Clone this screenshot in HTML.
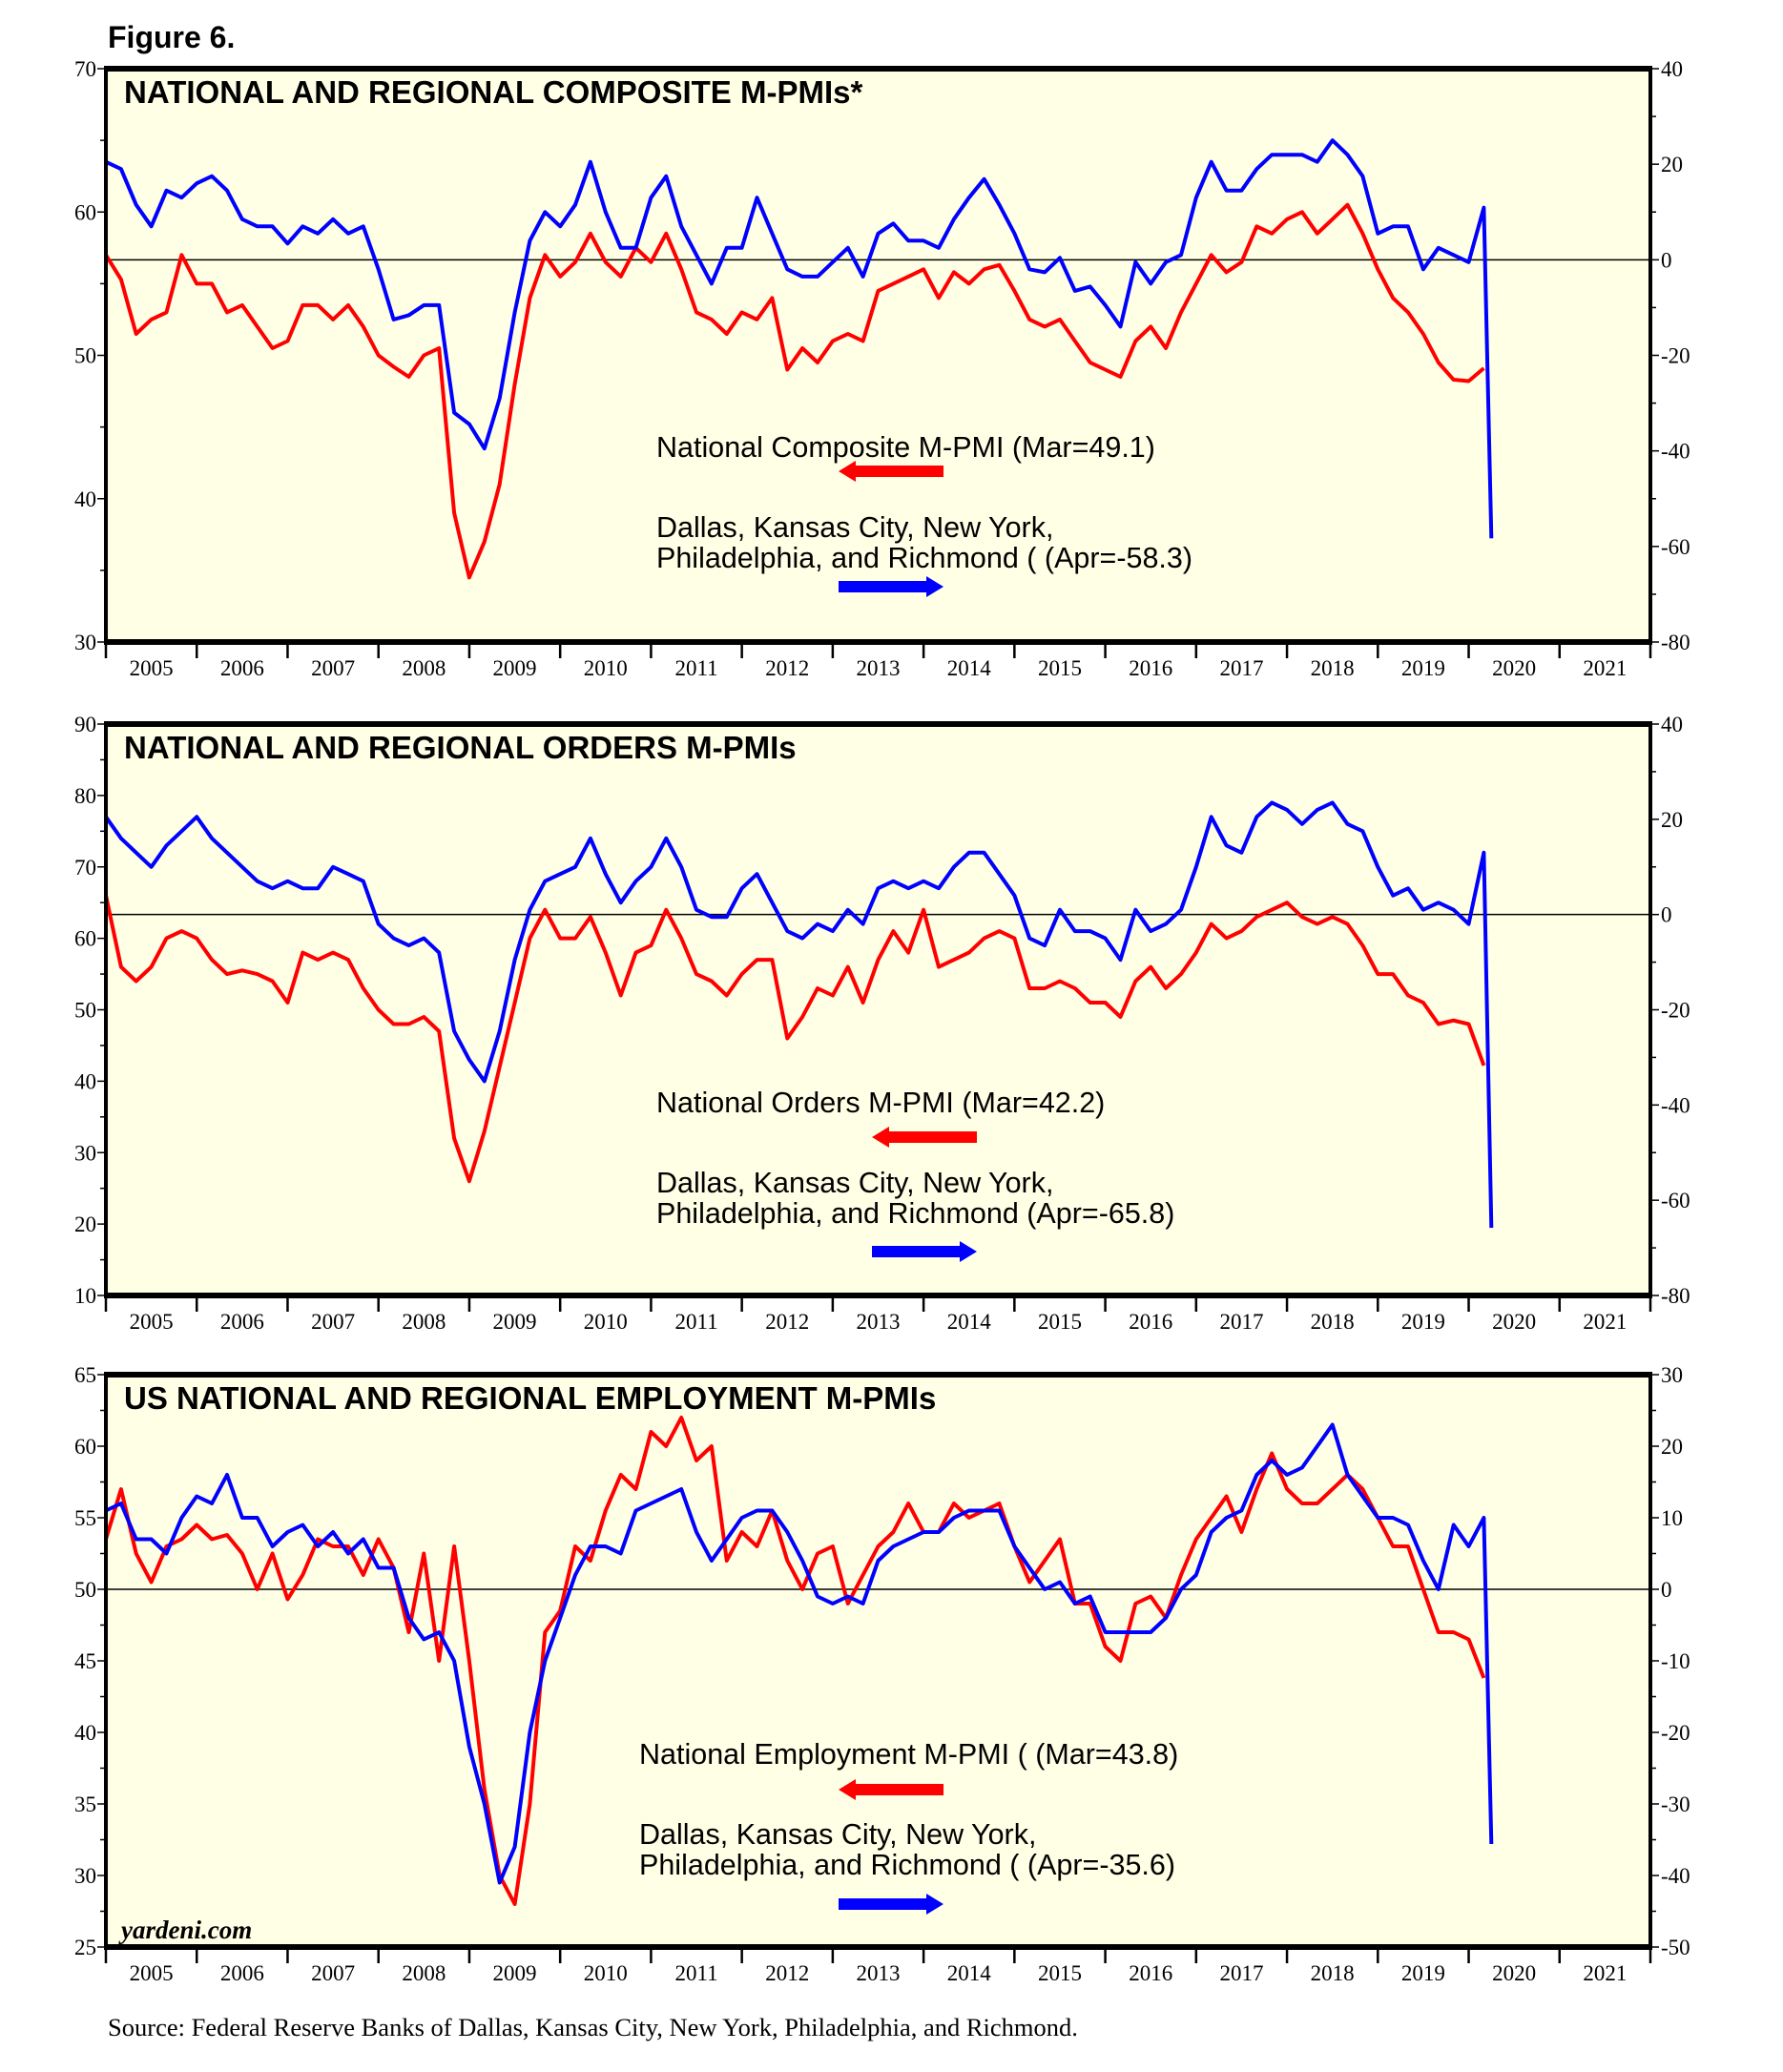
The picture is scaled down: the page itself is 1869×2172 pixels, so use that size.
<!DOCTYPE html>
<html><head><meta charset="utf-8">
<style>
html,body{margin:0;padding:0;background:#fff;}
svg{display:block;}
.tk{font-family:"Liberation Serif",serif;font-size:23px;fill:#000;}
.tt{font-family:"Liberation Sans",sans-serif;font-weight:bold;font-size:33px;fill:#000;}
.lg{font-family:"Liberation Sans",sans-serif;font-size:30.5px;fill:#000;}
</style></head>
<body>
<svg id="chart" width="1869" height="2172" viewBox="0 0 1869 2172" xmlns="http://www.w3.org/2000/svg">
<text x="113" y="50" class="tt" style="font-size:32px">Figure 6.</text>
<text x="113" y="2134" style="font-family:'Liberation Serif',serif;font-size:26.5px">Source: Federal Reserve Banks of Dallas, Kansas City, New York, Philadelphia, and Richmond.</text>
</svg>
<script>
// ---- data (bimonthly from Jan 2005; last entries Mar 2020 / Apr 2020) ----
const years = ["2005","2006","2007","2008","2009","2010","2011","2012","2013","2014","2015","2016","2017","2018","2019","2020","2021"];
const compNational = [57,55.3,51.5,52.5,53,57,55,55,53,53.5,52,50.5,51,53.5,53.5,52.5,53.5,52,50,49.2,48.5,50,50.5,39,34.5,37,41,48,54,57,55.5,56.5,58.5,56.5,55.5,57.5,56.5,58.5,56,53,52.5,51.5,53,52.5,54,49,50.5,49.5,51,51.5,51,54.5,55,55.5,56,54,55.8,55,56,56.3,54.5,52.5,52,52.5,51,49.5,49,48.5,51,52,50.5,53,55,57,55.8,56.5,59,58.5,59.5,60,58.5,59.5,60.5,58.5,56,54,53,51.5,49.5,48.3,48.2,49.1];
const compRegional = [20.5,19,11.5,7,14.5,13,16,17.5,14.5,8.5,7,7,3.4,7,5.5,8.5,5.5,7,-2,-12.5,-11.6,-9.5,-9.5,-32,-34.4,-39.5,-29,-11,4,10,7,11.5,20.5,10,2.5,2.5,13,17.5,7,1,-5,2.5,2.5,13,5.5,-2,-3.5,-3.5,-0.5,2.5,-3.5,5.5,7.6,4,4,2.5,8.5,13,16.9,11.5,5.5,-2,-2.6,0.4,-6.5,-5.6,-9.5,-14,-0.5,-5,-0.5,1,13,20.5,14.5,14.5,19,22,22,22,20.5,25,22,17.5,5.5,7,7,-2,2.5,1,-0.5,10.9,-58.3];
const ordNational = [66,56,54,56,60,61,60,57,55,55.5,55,54,51,58,57,58,57,53,50,48,48,49,47,32,26,33,42,51,60,64,60,60,63,58,52,58,59,64,60,55,54,52,55,57,57,46,49,53,52,56,51,57,61,58,64,56,57,58,60,61,60,53,53,54,53,51,51,49,54,56,53,55,58,62,60,61,63,64,65,63,62,63,62,59,55,55,52,51,48,48.5,48,42.2];
const ordRegional = [20.5,16,13,10,14.5,17.5,20.5,16,13,10,7,5.5,7,5.5,5.5,10,8.5,7,-2,-5,-6.5,-5,-8,-24.5,-30.5,-35,-24.5,-9.5,1,7,8.5,10,16,8.5,2.5,7,10,16,10,1,-0.5,-0.5,5.5,8.5,2.5,-3.5,-5,-2,-3.5,1,-2,5.5,7,5.5,7,5.5,10,13,13,8.5,4,-5,-6.5,1,-3.5,-3.5,-5,-9.5,1,-3.5,-2,1,10,20.5,14.5,13,20.5,23.5,22,19,22,23.5,19,17.5,10,4,5.5,1,2.5,1,-2,13,-65.8];
const empNational = [53.5,57,52.5,50.5,53,53.5,54.5,53.5,53.8,52.5,50,52.5,49.3,51,53.5,53,53,51,53.5,51.5,47,52.5,45,53,45,36,30,28,35,47,48.5,53,52,55.5,58,57,61,60,62,59,60,52,54,53,55.5,52,50,52.5,53,49,51,53,54,56,54,54,56,55,55.5,56,53,50.5,52,53.5,49,49,46,45,49,49.5,48,51,53.5,55,56.5,54,57,59.5,57,56,56,57,58,57,55,53,53,50,47,47,46.5,43.8];
const empRegional = [11,12,7,7,5,10,13,12,16,10,10,6,8,9,6,8,5,7,3,3,-4,-7,-6,-10,-22,-30,-41,-36,-20,-10,-4,2,6,6,5,11,12,13,14,8,4,7,10,11,11,8,4,-1,-2,-1,-2,4,6,7,8,8,10,11,11,11,6,3,0,1,-2,-1,-6,-6,-6,-6,-4,0,2,8,10,11,16,18,16,17,20,23,16,13,10,10,9,4,0,9,6,10,-35.6];

const NS="http://www.w3.org/2000/svg";
const svg=document.getElementById('chart');
const X0=111,X1=1730,START=2005,SPAN=17;
function xOf(month){return X0+(month/12)/SPAN*(X1-X0);}
function mk(tag,attrs,parent){const e=document.createElementNS(NS,tag);for(const k in attrs)e.setAttribute(k,attrs[k]);(parent||svg).appendChild(e);return e;}
function monthsFor(n,lastMonth){const m=[];for(let i=0;i<n-1;i++)m.push(2*i);m.push(lastMonth);return m;}

function panel(cfg){
  const g=mk('g',{});
  
  
  const yL=v=>cfg.bot-(v-cfg.lmin)/(cfg.lmax-cfg.lmin)*(cfg.bot-cfg.top);
  const yR=v=>cfg.bot-(v-cfg.rmin)/(cfg.rmax-cfg.rmin)*(cfg.bot-cfg.top);
  const bg=mk('rect',{x:X0,y:cfg.top,width:X1-X0,height:cfg.bot-cfg.top,fill:'#ffffe6'},g);
  
  
  for(let v=cfg.lmin;v<=cfg.lmax+1e-9;v+=cfg.lstep/2){
    const y=yL(v);const major=Math.abs(((v-cfg.lmin)/cfg.lstep)-Math.round((v-cfg.lmin)/cfg.lstep))<1e-6;
    mk('line',{x1:X0-(major?9:6),x2:X0,y1:y,y2:y,stroke:'#000','stroke-width':1.5},g);
    if(major){const t=mk('text',{x:X0-10,y:y+8,'text-anchor':'end',class:'tk'},g);t.textContent=v;
      
      }
  }
  for(let v=cfg.rmin;v<=cfg.rmax+1e-9;v+=cfg.rstep/2){
    const y=yR(v);const major=Math.abs(((v-cfg.rmin)/cfg.rstep)-Math.round((v-cfg.rmin)/cfg.rstep))<1e-6;
    mk('line',{x1:X1,x2:X1+(major?9:6),y1:y,y2:y,stroke:'#000','stroke-width':1.5},g);
    if(major){const t=mk('text',{x:X1+11,y:y+8,class:'tk'},g);t.textContent=v;
      
      }
  }
  for(let i=0;i<=SPAN;i++){
    const x=X0+i*(X1-X0)/SPAN;
    mk('line',{x1:x,x2:x,y1:cfg.bot,y2:cfg.bot+17,stroke:'#000','stroke-width':2.5},g);
    if(i<SPAN){const t=mk('text',{x:x+(X1-X0)/SPAN/2,y:cfg.bot+35,'text-anchor':'middle',class:'tk'},g);t.textContent=years[i];
      
      }
  }
  const zl=mk('line',{x1:X0,x2:X1,y1:yR(0),y2:yR(0),stroke:'#000','stroke-width':1.5},g);
  
  
  const mR=monthsFor(cfg.red.length,182), mB=monthsFor(cfg.blue.length,183);
  mB[mB.length-2]=182;
  const pr=cfg.red.map((v,i)=>xOf(mR[i]).toFixed(1)+','+yL(v).toFixed(1)).join(' ');
  const pb=cfg.blue.map((v,i)=>xOf(mB[i]).toFixed(1)+','+yR(v).toFixed(1)).join(' ');
  const lr=mk('polyline',{points:pr,fill:'none',stroke:'#ff0000','stroke-width':4,'stroke-linejoin':'round'},g);
  
  
  const lb=mk('polyline',{points:pb,fill:'none',stroke:'#0000ff','stroke-width':4,'stroke-linejoin':'round'},g);
  
  
  mk('rect',{x:X0,y:cfg.top,width:X1-X0,height:cfg.bot-cfg.top,fill:'none',stroke:'#000','stroke-width':4},g);
  mk('line',{x1:X0-2,x2:X1+2,y1:cfg.top,y2:cfg.top,stroke:'#000','stroke-width':6},g);
  mk('line',{x1:X0-2,x2:X1+2,y1:cfg.bot,y2:cfg.bot,stroke:'#000','stroke-width':6},g);
  const tt=mk('text',{x:130,y:cfg.top+36,class:'tt'},g);tt.textContent=cfg.title;
  
  
  const L=cfg.leg;
  const t1=mk('text',{x:L.x,y:L.y1,class:'lg'},g);t1.textContent=L.red;
  
  
  const ra=mk('polygon',{points:`${L.ax+18},${L.ra-6} ${L.ax+110},${L.ra-6} ${L.ax+110},${L.ra+6} ${L.ax+18},${L.ra+6} ${L.ax+18},${L.ra+11} ${L.ax},${L.ra} ${L.ax+18},${L.ra-11}`,fill:'#ff0000'},g);
  
  
  const t2=mk('text',{x:L.x,y:L.y2,class:'lg'},g);t2.textContent=L.blue1;
  
  
  const t3=mk('text',{x:L.x,y:L.y2+32,class:'lg'},g);t3.textContent=L.blue2;
  
  
  const ba=mk('polygon',{points:`${L.ax},${L.ba-6} ${L.ax+92},${L.ba-6} ${L.ax+92},${L.ba-11} ${L.ax+110},${L.ba} ${L.ax+92},${L.ba+11} ${L.ax+92},${L.ba+6} ${L.ax},${L.ba+6}`,fill:'#0000ff'},g);
  
  
}

panel({name:'composite-panel',top:72,bot:673,lmin:30,lmax:70,lstep:10,rmin:-80,rmax:40,rstep:20,
  title:'NATIONAL AND REGIONAL COMPOSITE M-PMIs*',red:compNational,blue:compRegional,
  leg:{x:688,y1:479,red:'National Composite M-PMI (Mar=49.1)',ax:879,ra:494,y2:563,blue1:'Dallas, Kansas City, New York,',blue2:'Philadelphia, and Richmond ( (Apr=-58.3)',ba:615}});
panel({name:'orders-panel',top:759,bot:1358,lmin:10,lmax:90,lstep:10,rmin:-80,rmax:40,rstep:20,
  title:'NATIONAL AND REGIONAL ORDERS M-PMIs',red:ordNational,blue:ordRegional,
  leg:{x:688,y1:1166,red:'National Orders M-PMI (Mar=42.2)',ax:914,ra:1192,y2:1250,blue1:'Dallas, Kansas City, New York,',blue2:'Philadelphia, and Richmond (Apr=-65.8)',ba:1312}});
panel({name:'employment-panel',top:1441,bot:2041,lmin:25,lmax:65,lstep:5,rmin:-50,rmax:30,rstep:10,
  title:'US NATIONAL AND REGIONAL EMPLOYMENT M-PMIs',red:empNational,blue:empRegional,
  leg:{x:670,y1:1849,red:'National Employment M-PMI ( (Mar=43.8)',ax:879,ra:1876,y2:1933,blue1:'Dallas, Kansas City, New York,',blue2:'Philadelphia, and Richmond ( (Apr=-35.6)',ba:1996}});

const yd=document.createElementNS(NS,'text');
yd.setAttribute('x',127);yd.setAttribute('y',2032);
yd.setAttribute('style',"font-family:'Liberation Serif',serif;font-style:italic;font-weight:bold;font-size:27px");
yd.textContent='yardeni.com';


svg.appendChild(yd);
</script>
</body></html>
